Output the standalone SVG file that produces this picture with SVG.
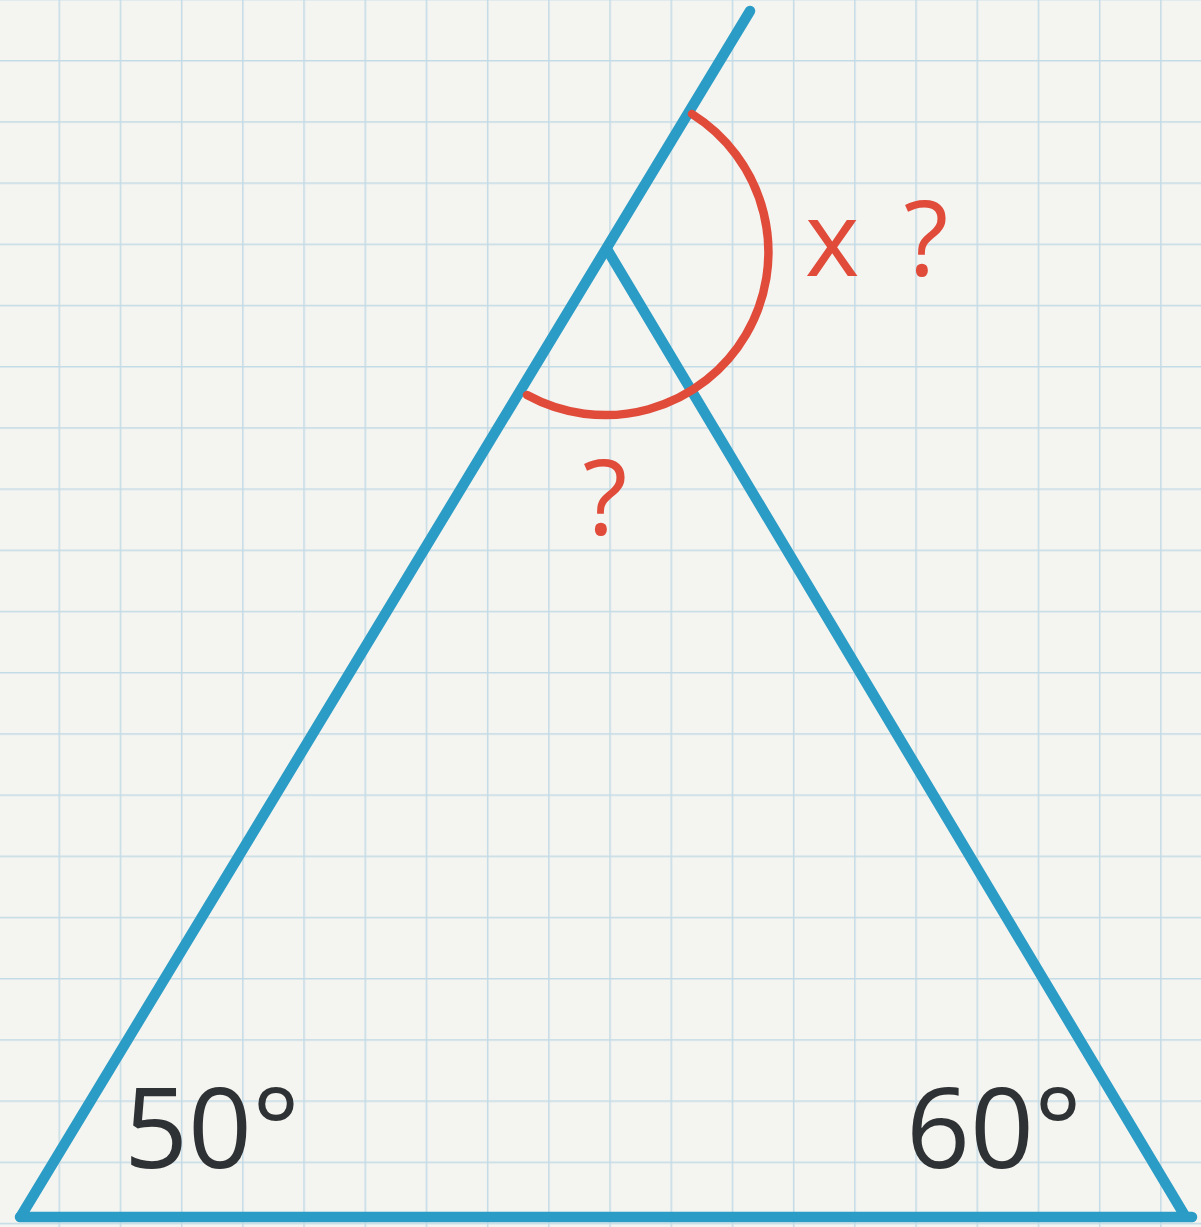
<svg xmlns="http://www.w3.org/2000/svg" width="1201" height="1227" viewBox="0 0 1201 1227">
<style>
.edge{stroke:#2a9cc6;stroke-width:10.5;stroke-linecap:round;stroke-linejoin:round;fill:none}
.arc{stroke:#e04b3a;stroke-width:8.5;stroke-linecap:round;fill:none}
.red{fill:#e04b3a;font-family:"Open Sans","Noto Sans",sans-serif;font-size:104px}
.deg{fill:#2f3234;font-family:"Open Sans","Noto Sans",sans-serif;font-size:112px}
</style>
<defs>
<pattern id="grid" width="61.2" height="61.2" patternUnits="userSpaceOnUse" x="58.5" y="60">
<path d="M0.75 0V61.2M0 0.75H61.2" stroke="#c3dbe6" stroke-width="1.5" fill="none"/>
</pattern>
</defs>
<rect width="1201" height="1227" fill="#f4f4f0"/>
<rect width="1201" height="1227" fill="url(#grid)"/>
<g id="connectors">
<path class="edge" d="M21 1216L750 11"/>
<path class="edge" d="M608 251L1185 1216"/>
<path class="edge" d="M20 1217H1192"/>
</g>
<g id="angle-x">
<path class="arc" d="M692 114A163 163 0 0 1 527 395"/>
<text class="red" x="805" y="276" word-spacing="17">x ?</text>
</g>
<g id="angle-apex">
<text class="red" x="605" y="535" text-anchor="middle">?</text>
</g>
<g id="angle-50">
<text class="deg" x="124" y="1168">50°</text>
</g>
<g id="angle-60">
<text class="deg" x="906" y="1168">60°</text>
</g>
</svg>
